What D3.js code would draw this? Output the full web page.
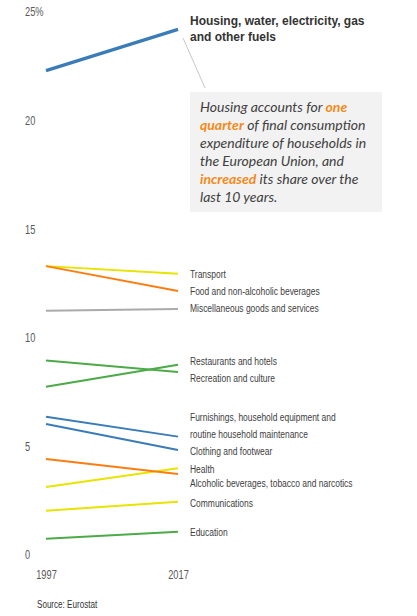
<!DOCTYPE html>
<html lang="en">
<head>
<meta charset="utf-8">
<title>Household consumption expenditure shares</title>
<script src="https://cdn.jsdelivr.net/npm/d3@7"></script>
<style>
  body { margin: 0; background: white; }
  svg { display: block; }
  .tick text { font-family: "Liberation Sans", Arial, sans-serif; font-size: 12px; fill: #595959; }
  .lbl { font-family: "Liberation Sans", Arial, sans-serif; font-size: 11px; fill: #404040; }
  .head { font-family: "Liberation Sans", Arial, sans-serif; font-size: 12px; font-weight: bold; fill: #333; }
  .note { font-family: Lato, sans-serif; font-size: 14px; font-style: italic; fill: #404040; }
  .hl { fill: #f28a1a; font-weight: bold; }
  .src { font-family: "Liberation Sans", Arial, sans-serif; font-size: 10.5px; fill: #333; }
</style>
</head>
<body>
<svg width="417" height="616"></svg>
<script>
// data (share of household final consumption, %)
var years = ["1997", "2017"];
var categories = [
  "Housing, water, electricity, gas and other fuels",
  "Transport",
  "Food and non-alcoholic beverages",
  "Miscellaneous goods and services",
  "Restaurants and hotels",
  "Recreation and culture",
  "Furnishings, household equipment and routine household maintenance",
  "Clothing and footwear",
  "Health",
  "Alcoholic beverages, tobacco and narcotics",
  "Communications",
  "Education"
];
var share1997 = [22.3, 13.3, 13.3, 11.25, 7.75, 8.95, 6.37, 6.03, 3.13, 4.42, 2.04, 0.75];
var share2017 = [24.2, 12.95, 12.15, 11.33, 8.76, 8.43, 5.45, 4.83, 3.99, 3.73, 2.45, 1.07];
var yTicks = [0, 5, 10, 15, 20, 25];

// styling / layout (not data)
var colors = ["#3a7cb8", "#e8e300", "#fb7d12", "#aaaaaa", "#4caa48", "#4caa48",
              "#3a7cb8", "#3a7cb8", "#e8e300", "#fb7d12", "#e8e300", "#4caa48"];
var labelLines = [
  ["Housing,  water, electricity, gas", "and other fuels"],
  ["Transport"], ["Food and non-alcoholic beverages"], ["Miscellaneous goods and services"],
  ["Restaurants and hotels"], ["Recreation and culture"],
  ["Furnishings,  household equipment and", "routine household maintenance"],
  ["Clothing and footwear"], ["Health"], ["Alcoholic beverages, tobacco and narcotics"],
  ["Communications"], ["Education"]
];
var labelNudge = [-8, 0, 0, -1, -4, 6, -20, 1, 1, 9, 1, 0];
var narrow = "scale(0.77,1)"; // squeeze Arial toward the chart's condensed face

var svg = d3.select("svg");

var x = d3.scalePoint().domain(years).range([46, 178]);
var y = d3.scaleLinear().domain([0, 25]).range([555, 12]);

// y axis: labels only
var yAxis = svg.append("g")
  .attr("transform", "translate(25,0)")
  .call(d3.axisLeft(y).tickValues(yTicks).tickSize(0)
    .tickFormat(function(d) { return d === 25 ? "25%" : d; }));
yAxis.select(".domain").remove();
yAxis.selectAll("text").attr("x", 0).attr("text-anchor", "start").attr("transform", narrow);

// x axis: labels only
var xAxis = svg.append("g")
  .attr("transform", "translate(0,567)")
  .call(d3.axisBottom(x).tickSize(0));
xAxis.select(".domain").remove();
xAxis.selectAll("text").attr("transform", narrow);

var rows = categories.map(function(c, i) {
  return { name: c, i: i, v: [share1997[i], share2017[i]] };
});

var line = d3.line()
  .x(function(d, j) { return x(years[j]); })
  .y(function(d) { return y(d); });

svg.append("g").selectAll("path")
  .data(rows)
  .join("path")
  .attr("d", function(d) { return line(d.v); })
  .attr("fill", "none")
  .attr("stroke", function(d) { return colors[d.i]; })
  .attr("stroke-width", function(d) { return d.i === 0 ? 3.2 : 2; });

// end labels
var lab = svg.append("g").selectAll("g")
  .data(rows)
  .join("g")
  .attr("transform", function(d) {
    return "translate(190," + (y(d.v[1]) + labelNudge[d.i] + 4) + ")" + (d.i === 0 ? "" : " " + narrow);
  })
  .append("text")
  .attr("class", function(d) { return d.i === 0 ? "head" : "lbl"; });
lab.selectAll("tspan")
  .data(function(d) { return labelLines[d.i].map(function(t, k) { return { t: t, k: k, head: d.i === 0 }; }); })
  .join("tspan")
  .attr("x", 0)
  .attr("dy", function(d) { return d.k === 0 ? 0 : (d.head ? 16 : 17); })
  .text(function(d) { return d.t; });

// callout
svg.append("line")
  .attr("x1", 183).attr("y1", 38).attr("x2", 205).attr("y2", 88)
  .attr("stroke", "#c8c8c8").attr("stroke-width", 1);
svg.append("rect")
  .attr("x", 190).attr("y", 92).attr("width", 192).attr("height", 120)
  .attr("fill", "#f2f2f2");

var note = [
  [["Housing accounts for ", false], ["one", true]],
  [["quarter", true], [" of final consumption", false]],
  [["expenditure of households in", false]],
  [["the European Union, and", false]],
  [["increased", true], [" its share over the", false]],
  [["last 10 years.", false]]
];
var noteText = svg.append("text").attr("class", "note");
note.forEach(function(segs, r) {
  segs.forEach(function(s, k) {
    var t = noteText.append("tspan").text(s[0]);
    if (k === 0) t.attr("x", 200).attr("y", 112 + r * 18);
    if (s[1]) t.attr("class", "hl");
  });
});

svg.append("g").attr("transform", "translate(37,608) " + narrow)
  .append("text").attr("class", "src").text("Source: Eurostat");
</script>
</body>
</html>
